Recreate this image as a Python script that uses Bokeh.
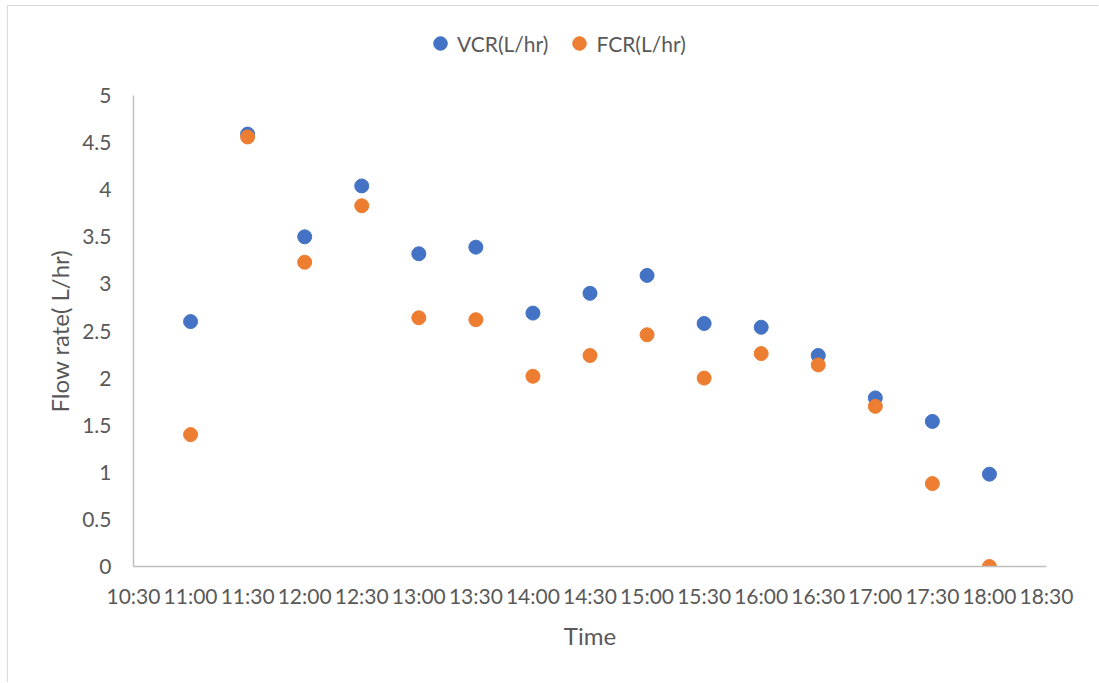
from bokeh.plotting import figure
from bokeh.models import (Legend, LegendItem, FixedTicker, NumeralTickFormatter,
                          ColumnDataSource, Range1d, Title)
from bokeh.embed import file_html
from bokeh.resources import INLINE

# ---- data ----
times = ["11:00", "11:30", "12:00", "12:30", "13:00", "13:30", "14:00", "14:30",
         "15:00", "15:30", "16:00", "16:30", "17:00", "17:30", "18:00"]
vcr = [2.60, 4.59, 3.50, 4.04, 3.32, 3.39, 2.69, 2.90, 3.09, 2.58, 2.54, 2.24, 1.79, 1.54, 0.98]
fcr = [1.40, 4.56, 3.23, 3.83, 2.64, 2.62, 2.02, 2.24, 2.46, 2.00, 2.26, 2.14, 1.70, 0.88, 0.00]
x_tick_labels = ["10:30", "11:00", "11:30", "12:00", "12:30", "13:00", "13:30", "14:00",
                 "14:30", "15:00", "15:30", "16:00", "16:30", "17:00", "17:30", "18:00", "18:30"]
y_ticks = [0, 0.5, 1, 1.5, 2, 2.5, 3, 3.5, 4, 4.5, 5]
y_title = "Flow rate( L/hr)"
x_title = "Time"


def to_hours(s):
    h, m = s.split(":")
    return int(h) + int(m) / 60.0


x = [to_hours(t) for t in times]
x_ticks = [to_hours(t) for t in x_tick_labels]

FONT = "Lato"
TXT = "#595959"
AX = "#BFBFBF"
BLUE = "#4472C4"
ORANGE = "#ED7D31"

# frame: 560 px tall in the figure, the value axis (0..5) occupies its lowest 471 px;
# the space above holds the legend
FRAME_H = 560
AXIS_H = 471
y_top = y_ticks[-1] * FRAME_H / AXIS_H

p = figure(width=1091, height=677, output_backend="svg", toolbar_location=None,
           x_range=Range1d(x_ticks[0], x_ticks[-1]), y_range=Range1d(0, y_top),
           min_border_left=125, min_border_right=53, min_border_top=0, min_border_bottom=117,
           styles={"margin-left": "7px", "margin-top": "5px",
                   "border-left": "1px solid #D9D9D9", "border-top": "1px solid #D9D9D9"})
p.title.visible = False
p.outline_line_color = None
p.grid.visible = False
p.background_fill_color = "white"
p.border_fill_color = "white"

src = ColumnDataSource(dict(x=x, vcr=vcr, fcr=fcr))
r1 = p.scatter("x", "vcr", source=src, size=14, color=BLUE, line_color=BLUE)
r2 = p.scatter("x", "fcr", source=src, size=14, color=ORANGE, line_color=ORANGE)

# axes
for ax in (p.xaxis[0], p.yaxis[0]):
    ax.axis_line_color = AX
    ax.axis_line_width = 1.5
    ax.major_tick_line_color = None
    ax.minor_tick_line_color = None
    ax.major_tick_out = 0
    ax.major_tick_in = 0
    ax.major_label_text_font = FONT
    ax.major_label_text_color = TXT
    ax.major_label_text_font_size = "21px"
    ax.axis_label_text_font = FONT
    ax.axis_label_text_color = TXT
    ax.axis_label_text_font_size = "24px"
    ax.axis_label_text_font_style = "normal"

p.xaxis.ticker = FixedTicker(ticks=x_ticks)
p.xaxis.major_label_overrides = {t: l for t, l in zip(x_ticks, x_tick_labels)}
p.xaxis.major_label_standoff = 16
p.xaxis.axis_label = x_title
p.xaxis.axis_label_standoff = 10

p.yaxis.ticker = FixedTicker(ticks=y_ticks)
p.yaxis.bounds = (y_ticks[0], y_ticks[-1])
p.yaxis.formatter = NumeralTickFormatter(format="0.[0]")
p.yaxis.major_label_standoff = 22

# y-axis title, centred on the 0..5 part of the axis
ytitle = Title(text=y_title, align="left", offset=154, standoff=12,
               text_font=FONT, text_font_size="24px", text_font_style="normal",
               text_color=TXT)
p.add_layout(ytitle, "left")

legend = Legend(items=[LegendItem(label="VCR(L/hr)", renderers=[r1]),
                       LegendItem(label="FCR(L/hr)", renderers=[r2])],
                orientation="horizontal", location=(290, 506),
                glyph_width=34, glyph_height=34, label_standoff=0, spacing=14,
                padding=0, margin=0,
                border_line_color=None, background_fill_alpha=0,
                label_text_font=FONT, label_text_color=TXT, label_text_font_size="21px")
p.add_layout(legend, "center")

open("out.html", "w").write(file_html(p, INLINE))
